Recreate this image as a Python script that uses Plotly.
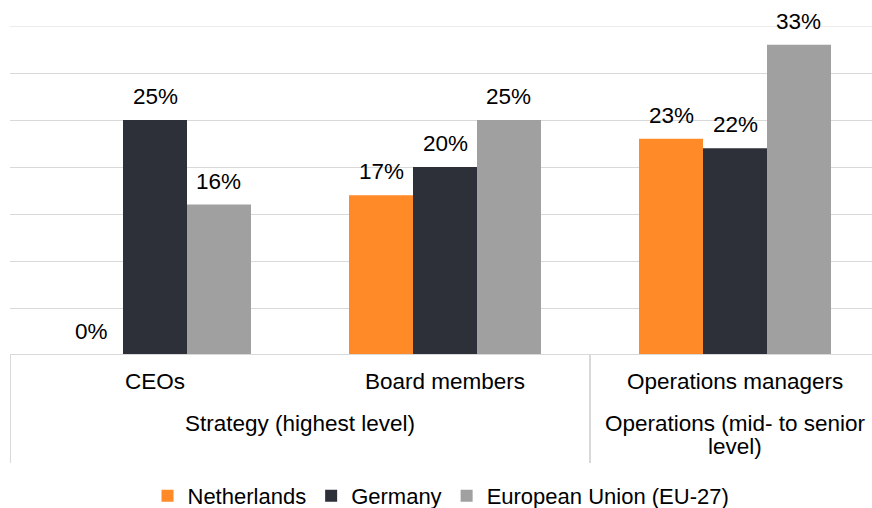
import plotly.graph_objects as go

categories = ["CEOs", "Board members", "Operations managers"]
groups = ["Strategy (highest level)", "Operations (mid- to senior", "level)"]
series_names = ["Netherlands", "Germany", "European Union (EU-27)"]
netherlands = [0, 17, 23]
germany = [25, 20, 22]
eu27 = [16, 25, 33]
colors = ["#FF8A27", "#2D3038", "#A0A0A0"]

FONT = "Liberation Sans, Arial, sans-serif"
FS = 22.5
xpos = list(range(len(categories)))
bargap = 0.338
bw = (1 - bargap) / 3

fig = go.Figure()
all_series = [netherlands, germany, eu27]
for name, vals, col in zip(series_names, all_series, colors):
    fig.add_trace(go.Bar(x=xpos, y=vals, name=name, marker=dict(color=col, line=dict(width=0)),
                         hoverinfo="skip"))

# value labels
for si, vals in enumerate(all_series):
    off = (si - 1) * bw
    for xi, v in zip(xpos, vals):
        fig.add_annotation(x=xi + off, y=v, xref="x", yref="y", text=f"{v}%",
                           showarrow=False, yanchor="bottom", yshift=9,
                           font=dict(size=FS, color="#000000", family=FONT))

# category labels
for xi, c in zip(xpos, categories):
    fig.add_annotation(x=xi, y=0, xref="x", yref="paper", text=c, showarrow=False,
                       yanchor="middle", yshift=-26, font=dict(size=FS, color="#000000", family=FONT))
fig.add_annotation(x=0.5, y=0, xref="x", yref="paper", text=groups[0], showarrow=False,
                   yanchor="middle", yshift=-68, font=dict(size=FS, color="#000000", family=FONT))
fig.add_annotation(x=2, y=0, xref="x", yref="paper", text=groups[1], showarrow=False,
                   yanchor="middle", yshift=-68, font=dict(size=FS, color="#000000", family=FONT))
fig.add_annotation(x=2, y=0, xref="x", yref="paper", text=groups[2], showarrow=False,
                   yanchor="middle", yshift=-91, font=dict(size=FS, color="#000000", family=FONT))

PH = 329
sep_bottom = -108 / PH
fig.add_shape(type="line", xref="x", yref="paper", x0=-0.5, x1=-0.5, y0=0, y1=sep_bottom,
              line=dict(color="#D9D9D9", width=2))
fig.add_shape(type="line", xref="x", yref="paper", x0=1.5, x1=1.5, y0=0, y1=sep_bottom,
              line=dict(color="#D9D9D9", width=2))
fig.add_shape(type="line", xref="paper", yref="y", x0=0, x1=1, y0=0, y1=0,
              line=dict(color="#D9D9D9", width=2))
fig.add_shape(type="line", xref="paper", yref="y", x0=0, x1=1, y0=35, y1=35,
              line=dict(color="#D9D9D9", width=1))

fig.update_layout(
    width=872, height=508,
    margin=dict(l=10, r=0, t=26, b=153, autoexpand=False),
    paper_bgcolor="white", plot_bgcolor="white",
    barmode="group", bargap=bargap, bargroupgap=0,
    font=dict(family=FONT, size=FS, color="#000000"),
    showlegend=True,
    legend=dict(orientation="h", x=0.5, xanchor="center", y=(355 - 496) / PH, yanchor="middle",
                font=dict(size=22, family=FONT, color="#000000"), itemwidth=30,
                traceorder="normal"),
)
fig.update_xaxes(range=[-0.5, -0.5 + 862 / 290], showticklabels=False, showgrid=False,
                 zeroline=False, showline=False, ticks="")
fig.update_yaxes(range=[0, 35], dtick=5, showticklabels=False, showgrid=True,
                 gridcolor="#D9D9D9", gridwidth=1, zeroline=False, showline=False, ticks="")

fig.write_html("out.html", config={"displayModeBar": False},
               post_script="document.body.style.margin='0';document.body.style.overflow='hidden';")
